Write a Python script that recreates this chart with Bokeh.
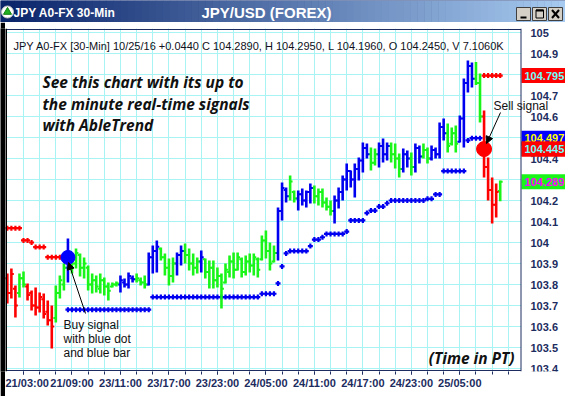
from bokeh.plotting import figure
from bokeh.models import (ColumnDataSource, Range1d, FixedTicker, Label, Arrow, NormalHead, Span)
from bokeh.layouts import column, row
from bokeh.embed import file_html
from bokeh.resources import INLINE
from bokeh.core.properties import value

# ---------------- data ----------------
window_title = "JPY A0-FX 30-Min"
chart_title = "JPY/USD (FOREX)"
header_text = ("JPY A0-FX [30-Min] 10/25/16  +0.0440 C 104.2890, H 104.2950, "
               "L 104.1960, O 104.2450, V 7.1060K")
promo_lines = ["See this chart with its up to", "the minute real-time signals", "with AbleTrend"]
buy_note_lines = ["Buy signal", "with blue dot", "and blue bar"]
sell_note = "Sell signal"
time_note = "(Time in PT)"

x_tick_index = [0, 12, 24, 36, 48, 60, 72, 84, 96, 108]
x_tick_labels = ["21/03:00", "21/09:00", "23/11:00", "23/17:00", "23/23:00",
                 "24/05:00", "24/11:00", "24/17:00", "24/23:00", "25/05:00"]
y_ticks = [103.4, 103.5, 103.6, 103.7, 103.8, 103.9, 104.0, 104.1, 104.2,
           104.3, 104.4, 104.5, 104.6, 104.7, 104.8, 104.9, 105.0]
y_tick_labels = ["103.4", "103.5", "103.6", "103.7", "103.8", "103.9", "104", "104.1", "104.2",
                 "104.3", "104.4", "104.5", "104.6", "104.7", "104.8", "104.9", "105"]

bar_index = list(range(-4, 119))
bar_signal = ["R", "R", "R", "G", "G", "R", "R", "R", "R", "R",   # -4..5
              "R", "R", "G", "G", "G", "B", "G", "G", "G", "G",   # 6..15
              "G", "G", "G", "G", "G", "G", "G", "G", "B", "B",   # 16..25
              "B", "B", "G", "G", "G", "B", "B", "B", "G", "G",   # 26..35
              "G", "G", "B", "B", "G", "G", "G", "G", "B", "G",   # 36..45
              "G", "G", "G", "G", "G", "G", "G", "G", "G", "G",   # 46..55
              "G", "G", "G", "G", "G", "G", "G", "B", "B", "B",   # 56..65
              "G", "G", "B", "B", "B", "B", "G", "G", "G", "G",   # 66..75
              "G", "B", "B", "B", "B", "B", "B", "B", "B", "B",   # 76..85
              "G", "G", "B", "B", "B", "G", "G", "G", "B", "B",   # 86..95
              "G", "B", "B", "G", "G", "B", "B", "B", "B", "G",   # 96..105
              "G", "G", "B", "B", "B", "B", "G", "G", "R", "R",   # 106..115
              "R", "R", "G"]                                       # 116..118
bar_high = [103.852, 103.876, 103.795, 103.852, 103.862, 103.805, 103.771, 103.786, 103.762, 103.757,
            103.724, 103.700, 103.795, 103.843, 103.900, 104.019, 103.948, 103.971, 103.948, 103.929,
            103.890, 103.852, 103.843, 103.852, 103.833, 103.810, 103.810, 103.814, 103.843, 103.829,
            103.857, 103.843, 103.852, 103.833, 103.843, 103.952, 103.986, 104.010, 103.976, 103.948,
            103.924, 103.929, 103.952, 103.986, 103.995, 103.971, 103.948, 103.929, 103.962, 103.924,
            103.914, 103.914, 103.881, 103.852, 103.900, 103.938, 103.952, 103.952, 103.929, 103.938,
            103.948, 103.948, 103.929, 104.033, 104.057, 104.000, 103.986, 104.167, 104.286, 104.262,
            104.319, 104.248, 104.248, 104.257, 104.248, 104.281, 104.271, 104.257, 104.257, 104.214,
            104.200, 104.224, 104.262, 104.319, 104.376, 104.343, 104.376, 104.405, 104.476, 104.471,
            104.452, 104.448, 104.476, 104.495, 104.476, 104.476, 104.471, 104.424, 104.448, 104.438,
            104.429, 104.471, 104.462, 104.471, 104.452, 104.462, 104.452, 104.571, 104.590, 104.567,
            104.548, 104.557, 104.605, 104.781, 104.867, 104.857, 104.860, 104.805, 104.629, 104.405,
            104.310, 104.281, 104.295]
bar_low = [103.710, 103.733, 103.643, 103.738, 103.786, 103.724, 103.676, 103.652, 103.667, 103.638,
           103.605, 103.495, 103.619, 103.733, 103.771, 103.810, 103.852, 103.876, 103.838, 103.829,
           103.771, 103.757, 103.762, 103.757, 103.748, 103.724, 103.786, 103.790, 103.762, 103.786,
           103.781, 103.810, 103.810, 103.795, 103.781, 103.795, 103.852, 103.857, 103.914, 103.843,
           103.795, 103.810, 103.843, 103.890, 103.900, 103.867, 103.843, 103.852, 103.857, 103.829,
           103.781, 103.781, 103.786, 103.686, 103.805, 103.833, 103.829, 103.867, 103.833, 103.843,
           103.857, 103.843, 103.833, 103.914, 103.924, 103.867, 103.905, 103.914, 104.105, 104.190,
           104.200, 104.190, 104.152, 104.176, 104.167, 104.186, 104.186, 104.176, 104.167, 104.152,
           104.129, 104.090, 104.162, 104.200, 104.248, 104.262, 104.214, 104.295, 104.333, 104.400,
           104.343, 104.367, 104.357, 104.381, 104.390, 104.381, 104.352, 104.310, 104.333, 104.357,
           104.319, 104.333, 104.376, 104.400, 104.376, 104.390, 104.400, 104.400, 104.486, 104.429,
           104.462, 104.429, 104.476, 104.452, 104.714, 104.738, 104.750, 104.571, 104.310, 104.200,
           104.090, 104.119, 104.196]
bar_open = [103.830, 103.760, 103.780, 103.760, 103.830, 103.790, 103.760, 103.700, 103.690, 103.730,
            103.670, 103.630, 103.640, 103.760, 103.800, 103.880, 103.930, 103.900, 103.940, 103.880,
            103.880, 103.800, 103.820, 103.780, 103.820, 103.790, 103.790, 103.800, 103.800, 103.810,
            103.800, 103.830, 103.825, 103.820, 103.810, 103.800, 103.930, 103.960, 103.970, 103.930,
            103.880, 103.840, 103.900, 103.940, 103.960, 103.940, 103.900, 103.880, 103.910, 103.920,
            103.860, 103.880, 103.820, 103.840, 103.810, 103.860, 103.910, 103.870, 103.920, 103.860,
            103.910, 103.890, 103.920, 103.920, 104.010, 103.960, 103.910, 103.950, 104.150, 104.250,
            104.220, 104.240, 104.210, 104.230, 104.200, 104.240, 104.260, 104.220, 104.240, 104.190,
            104.170, 104.150, 104.200, 104.240, 104.300, 104.340, 104.300, 104.350, 104.390, 104.450,
            104.420, 104.380, 104.420, 104.460, 104.420, 104.460, 104.420, 104.400, 104.350, 104.420,
            104.400, 104.360, 104.450, 104.410, 104.440, 104.400, 104.440, 104.420, 104.550, 104.520,
            104.470, 104.520, 104.480, 104.590, 104.760, 104.840, 104.780, 104.760, 104.600, 104.360,
            104.250, 104.180, 104.245]
bar_close = [103.760, 103.850, 103.700, 103.830, 103.800, 103.750, 103.700, 103.690, 103.740, 103.660,
             103.630, 103.600, 103.760, 103.820, 103.880, 103.930, 103.900, 103.950, 103.880, 103.900,
             103.800, 103.820, 103.790, 103.820, 103.790, 103.770, 103.800, 103.805, 103.820, 103.800,
             103.840, 103.825, 103.830, 103.810, 103.800, 103.930, 103.960, 103.980, 103.930, 103.880,
             103.840, 103.900, 103.940, 103.960, 103.940, 103.900, 103.880, 103.910, 103.930, 103.860,
             103.880, 103.820, 103.840, 103.780, 103.870, 103.910, 103.870, 103.930, 103.860, 103.910,
             103.890, 103.930, 103.870, 104.010, 103.960, 103.900, 103.950, 104.150, 104.260, 104.220,
             104.290, 104.210, 104.230, 104.200, 104.240, 104.260, 104.220, 104.240, 104.190, 104.170,
             104.150, 104.200, 104.240, 104.300, 104.340, 104.300, 104.350, 104.390, 104.450, 104.420,
             104.380, 104.420, 104.460, 104.420, 104.460, 104.420, 104.400, 104.350, 104.420, 104.400,
             104.360, 104.450, 104.410, 104.440, 104.400, 104.440, 104.420, 104.550, 104.520, 104.460,
             104.520, 104.470, 104.590, 104.760, 104.840, 104.780, 104.760, 104.600, 104.360, 104.250,
             104.180, 104.240, 104.289]

red_stop_index = [-4, -3, -2, -1, 0, 1, 2, 3, 4, 5, 6, 7, 8, 9, 10, 114, 115, 116, 117, 118]
red_stop_price = [104.068, 104.068, 104.068, 104.068, 104.010, 104.010, 104.000, 103.978, 103.978, 103.978,
                  103.930, 103.930, 103.930, 103.930, 103.930, 104.795, 104.795, 104.795, 104.795, 104.795]
blue_stop_index = list(range(11, 114))
blue_stop_price = [103.680, 103.680, 103.680, 103.680, 103.680, 103.680, 103.680, 103.680, 103.680, 103.680,  # 11..20
                   103.680, 103.680, 103.680, 103.680, 103.680, 103.680, 103.680, 103.680, 103.680, 103.680,  # 21..30
                   103.680, 103.740, 103.740, 103.740, 103.740, 103.740, 103.740, 103.740, 103.740, 103.740,  # 31..40
                   103.740, 103.740, 103.740, 103.740, 103.740, 103.740, 103.740, 103.740, 103.740, 103.740,  # 41..50
                   103.740, 103.740, 103.740, 103.740, 103.740, 103.740, 103.740, 103.740, 103.756, 103.756,  # 51..60
                   103.756, 103.756, 103.805, 103.886, 103.948, 103.959, 103.959, 103.959, 103.959, 103.959,  # 61..70
                   103.983, 104.014, 104.014, 104.025, 104.041, 104.041, 104.041, 104.041, 104.041, 104.052,  # 71..80
                   104.105, 104.105, 104.105, 104.105, 104.140, 104.152, 104.152, 104.171, 104.171, 104.187,  # 81..90
                   104.200, 104.200, 104.200, 104.200, 104.200, 104.200, 104.200, 104.200, 104.200, 104.208,  # 91..100
                   104.208, 104.229, 104.229, 104.340, 104.340, 104.340, 104.340, 104.340, 104.340, 104.486,  # 101..110
                   104.497, 104.497, 104.497]                                                                 # 111..113

buy_signal_index, buy_signal_price = [11], [103.929]
sell_signal_index, sell_signal_price = [114], [104.445]

price_box_values = [104.795, 104.497, 104.445, 104.289]
price_box_texts = ["104.795", "104.497", "104.445", "104.289"]

# ---------------- styling / layout ----------------
SIG_COLOR = {"R": "#ff0000", "G": "#19f519", "B": "#0000f0"}
NAVY = "#1c2c60"
GRID = "#a8f4f4"
FONT = "Liberation Sans"

# page-pixel helpers (layout only)
def k_at(px):
    return (px - 23.0) / 4.04

def price_at(py):
    return 104.0 + (242.0 - py) / 210.0

W = 565
TB_H = 22
MAIN_H = 374
STRIP_W = 5

# ---------- title bar ----------
tb = figure(width=W, height=TB_H, x_range=Range1d(0, W), y_range=Range1d(0, TB_H),
            toolbar_location=None, output_backend="svg", min_border=0)
tb.axis.visible = False
tb.grid.visible = False
tb.outline_line_color = None
tb.background_fill_color = "#0a246a"
tb.border_fill_color = "#0a246a"
n = 80
c0, c1 = (10, 36, 106), (166, 202, 240)
lefts = [W * i / n for i in range(n)]
rights = [W * (i + 1) / n + 0.5 for i in range(n)]
cols = ["#%02x%02x%02x" % tuple(int(c0[j] + (c1[j] - c0[j]) * i / (n - 1)) for j in range(3))
        for i in range(n)]
tb.quad(left=lefts, right=rights, bottom=0, top=TB_H, fill_color=cols, line_color=None)
tb.scatter(x=[7], y=[10.5], marker="circle", size=12, fill_color="white", line_color="#c0c0c0")
tb.scatter(x=[7], y=[10.5], marker="triangle", size=8, fill_color="#21b021", line_color="#118011")
tb.text(x=[13], y=[10], text=[window_title], text_font=value(FONT), text_font_style="bold",
        text_font_size="12px", text_color="white", text_baseline="middle")
tb.text(x=[266], y=[10], text=[chart_title], text_font=value(FONT), text_font_style="bold",
        text_font_size="15px", text_color="white", text_baseline="middle", text_align="center")
tb.quad(left=[516, 532, 548], right=[530, 546, 562], bottom=[2, 2, 2], top=[15, 15, 15],
        fill_color="#d4d0c8", line_color="#404040")
tb.segment(x0=[520], y0=[5], x1=[526], y1=[5], line_color="black", line_width=2)
tb.quad(left=[535.5], right=[543], bottom=[4.5], top=[12.5], fill_color=None, line_color="black", line_width=1)
tb.segment(x0=[535.5], y0=[12], x1=[543], y1=[12], line_color="black", line_width=2)
tb.segment(x0=[551.5, 551.5], y0=[4.5, 12.5], x1=[558.5, 558.5], y1=[12.5, 4.5], line_color="black", line_width=2)

# ---------- left window edge ----------
strip = figure(width=STRIP_W, height=MAIN_H, toolbar_location=None, output_backend="svg", min_border=0)
strip.axis.visible = False
strip.grid.visible = False
strip.outline_line_color = None
strip.background_fill_color = "#000000"
strip.border_fill_color = "#000000"

# ---------- main chart ----------
p = figure(width=W - STRIP_W, height=MAIN_H,
           x_range=Range1d(k_at(5), k_at(565)), y_range=Range1d(price_at(371), price_at(28)),
           y_axis_location=None, toolbar_location=None, output_backend="svg",
           min_border_left=0, min_border_right=0, min_border_top=6, min_border_bottom=25)
p.background_fill_color = "white"
p.border_fill_color = "white"
p.outline_line_color = None

minor = list(range(0, 124, 4))
p.xaxis.ticker = FixedTicker(ticks=x_tick_index, minor_ticks=minor)
p.xaxis.major_label_overrides = {k: s for k, s in zip(x_tick_index, x_tick_labels)}
p.xaxis.major_label_text_font = FONT
p.xaxis.major_label_text_font_style = "bold"
p.xaxis.major_label_text_font_size = "11px"
p.xaxis.major_label_text_color = NAVY
p.xaxis.major_label_standoff = 2
p.xaxis.axis_line_color = None
p.xaxis.major_tick_line_color = NAVY
p.xaxis.minor_tick_line_color = NAVY
p.xaxis.major_tick_in = 0
p.xaxis.major_tick_out = 3
p.xaxis.minor_tick_in = 0
p.xaxis.minor_tick_out = 3

p.xgrid.grid_line_color = GRID
p.xgrid.minor_grid_line_color = GRID
p.ygrid.ticker = FixedTicker(ticks=y_ticks)
p.ygrid.grid_line_color = GRID

# stop dots
p.scatter(x=red_stop_index, y=red_stop_price, marker="cross", size=5, line_width=2.2, line_color="#ff0000")
p.scatter(x=blue_stop_index, y=blue_stop_price, marker="cross", size=5, line_width=2.2, line_color="#0000f0")

# bars
colors = [SIG_COLOR[s] for s in bar_signal]
src = ColumnDataSource(dict(x=bar_index, h=bar_high, l=bar_low, o=bar_open, c=bar_close,
                            xl=[k - 0.6 for k in bar_index], xr=[k + 0.6 for k in bar_index],
                            col=colors))
p.segment(x0="x", y0="l", x1="x", y1="h", line_color="col", line_width=2.6, source=src)
p.segment(x0="xl", y0="o", x1="x", y1="o", line_color="col", line_width=2, source=src)
p.segment(x0="x", y0="c", x1="xr", y1="c", line_color="col", line_width=2, source=src)

# signal dots
p.scatter(x=buy_signal_index, y=buy_signal_price, size=14, fill_color="#0000ff", line_color="#0000ff")
p.scatter(x=sell_signal_index, y=sell_signal_price, size=15, fill_color="#ff0000", line_color="#ff0000")

# price scale panel (right of the chart box)
p.quad(left=[k_at(520.5)], right=[k_at(566)], bottom=[price_at(372)], top=[price_at(27)],
       fill_color="white", line_color=None)
p.text(x=k_at(530), y=y_ticks, text=y_tick_labels, text_font=value(FONT), text_font_style="bold",
       text_font_size="11px", text_color=NAVY, text_baseline="middle")
box_fill = ["#ff0000", "#0000ff", "#ff0000", "#19f519"]
box_text = ["#70ffff", "#ffff00", "#70ffff", "#ff00ff"]
half = 7.5 / 210.0
p.quad(left=k_at(521), right=k_at(566), bottom=[v - half for v in price_box_values],
       top=[v + half for v in price_box_values], fill_color=box_fill, line_color=None)
p.text(x=k_at(524), y=price_box_values, text=price_box_texts, text_font=value(FONT),
       text_font_style="bold", text_font_size="11px", text_color=box_text, text_baseline="middle")
# redraw overlapping order: 104.445 box above 104.497 box
p.quad(left=k_at(521), right=k_at(566), bottom=[price_box_values[2] - half],
       top=[price_box_values[2] + half], fill_color=box_fill[2], line_color=None)
p.text(x=k_at(524), y=[price_box_values[2]], text=[price_box_texts[2]], text_font=value(FONT),
       text_font_style="bold", text_font_size="11px", text_color=box_text[2], text_baseline="middle")

# chart box lines
p.segment(x0=[k_at(5), k_at(5)], y0=[price_at(29), price_at(370)],
          x1=[k_at(520.5), k_at(520.5)], y1=[price_at(29), price_at(370)], line_color=NAVY, line_width=1)
p.add_layout(Span(location=k_at(520.5), dimension="height", line_color=NAVY, line_width=1))
p.add_layout(Span(location=k_at(5.5), dimension="height", line_color="black", line_width=2))

# header
p.add_layout(Label(x=k_at(13), y=price_at(45), text=header_text, text_font=FONT,
                   text_font_size="11px", text_color="#101020", text_baseline="middle"))
# promo text
for i, line in enumerate(promo_lines):
    p.add_layout(Label(x=k_at(42), y=price_at(81.5 + 21.7 * i), text=line, text_font="Open Sans",
                       text_font_style="bold italic", text_font_size="15.5px", text_color="#111111",
                       text_baseline="middle"))
p.add_layout(Label(x=k_at(514), y=price_at(357), text=time_note, text_font="Open Sans",
                   text_font_style="bold italic", text_font_size="15.5px", text_color="#111111",
                   text_baseline="middle", text_align="right"))
# notes
for i, line in enumerate(buy_note_lines):
    p.add_layout(Label(x=k_at(63), y=price_at(324 + 14 * i), text=line, text_font=FONT,
                       text_font_size="12px", text_color="#111111", text_baseline="middle"))
p.add_layout(Label(x=k_at(493), y=price_at(105), text=sell_note, text_font=FONT,
                   text_font_size="12px", text_color="#111111", text_baseline="middle"))

# arrows
p.add_layout(Arrow(end=NormalHead(size=7, fill_color="black", line_color="black"),
                   x_start=k_at(85), y_start=price_at(313), x_end=k_at(68), y_end=price_at(262),
                   line_color="black", line_width=1))
p.add_layout(Arrow(end=NormalHead(size=7, fill_color="black", line_color="black"),
                   x_start=k_at(500), y_start=price_at(112), x_end=k_at(486), y_end=price_at(143),
                   line_color="black", line_width=1))

layout = column(tb, row(strip, p, spacing=0), spacing=0)
open("out.html", "w").write(file_html(layout, INLINE))
